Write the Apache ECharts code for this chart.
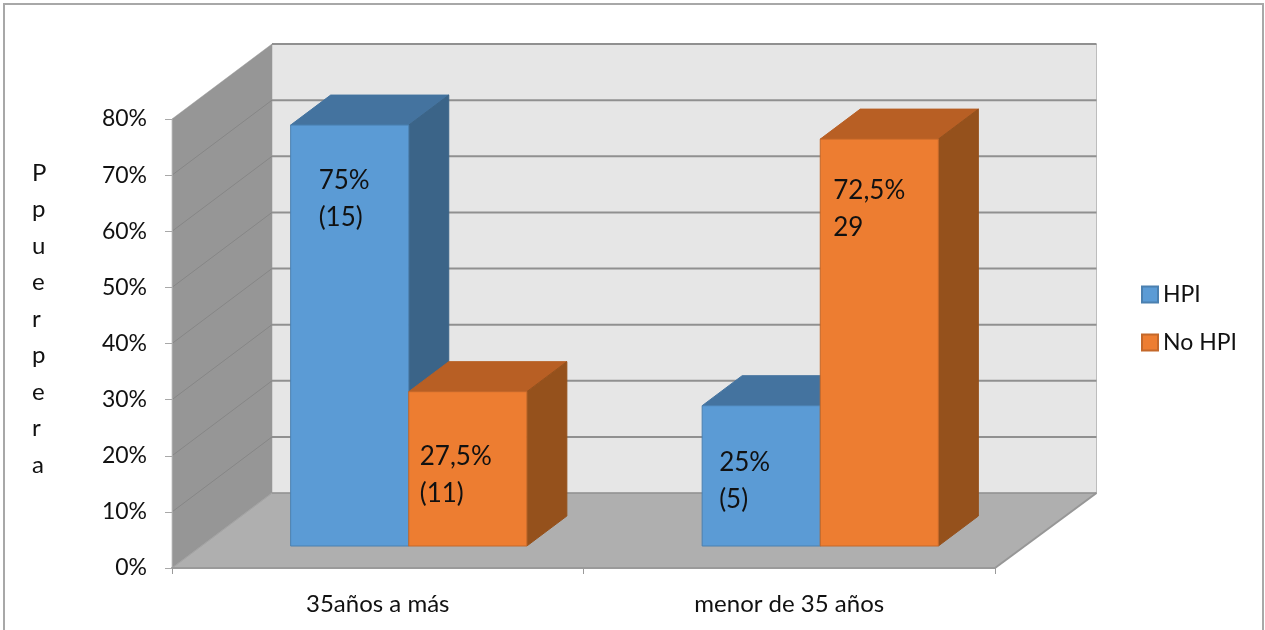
<!DOCTYPE html>
<html>
<head>
<meta charset="utf-8">
<style>html,body{margin:0;padding:0;background:#fff}#c{width:1265px;height:630px}</style>
<script src="https://cdn.jsdelivr.net/npm/echarts@6/dist/echarts.min.js"></script>
</head>
<body>
<div id="c"></div>
<script>
const categories = ['35años a más', 'menor de 35 años'];
const hpiValues = [75, 25];
const noHpiValues = [27.5, 72.5];
const hpiLabels = ['75%\n(15)', '25%\n(5)'];
const noHpiLabels = ['27,5%\n(11)', '72,5%\n29'];
const yTicks = [0, 10, 20, 30, 40, 50, 60, 70, 80];
const yAxisTitle = 'P\np\nu\ne\nr\np\ne\nr\na';

// layout of the pseudo-3D box (pixels)
const WALL_DX = 100, WALL_DY = -75, WALL_RIGHT_EXTRA = 1.5;
const BAR_SHIFT_X = 31, BAR_SHIFT_Y = -22, BAR_DX = 40, BAR_DY = -30, BAR_FRACTION = 0.287;
const hpiLabelOffsets = [[28, 37], [17, 38]];
const noHpiLabelOffsets = [[11, 46], [13, 33]];
const FONT = 'Lato, "Noto Sans", sans-serif';
const TEXT = '#111';

function poly(points, fill, stroke, lineWidth) {
  return { type: 'polygon', shape: { points }, style: { fill, stroke: stroke || fill, lineWidth: lineWidth || 0.5 } };
}
function seg(a, b, stroke, lineWidth) {
  return { type: 'line', shape: { x1: a[0], y1: a[1], x2: b[0], y2: b[1] }, style: { stroke, lineWidth } };
}

function renderBox(params, api) {
  const g = params.coordSys;
  const x0 = g.x, x1 = g.x + g.width;
  const xr = x1 + WALL_DX + WALL_RIGHT_EXTRA;
  const y0 = api.coord([0, yTicks[0]])[1];
  const yTop = api.coord([0, yTicks[yTicks.length - 1]])[1];
  const children = [
    poly([[x0 + WALL_DX, yTop + WALL_DY], [xr, yTop + WALL_DY], [xr, y0 + WALL_DY], [x0 + WALL_DX, y0 + WALL_DY]], '#e6e6e6'),
    poly([[x0, y0], [x0 + WALL_DX, y0 + WALL_DY], [xr, y0 + WALL_DY], [x1, y0]], '#afafaf'),
    poly([[x0, yTop], [x0 + WALL_DX, yTop + WALL_DY], [x0 + WALL_DX, y0 + WALL_DY], [x0, y0]], '#969696'),
    seg([xr, yTop + WALL_DY], [xr, y0 + WALL_DY], '#bdbdbd', 1),
    seg([x1, y0], [xr, y0 + WALL_DY], '#979797', 2),
    seg([x0, y0], [x0 + WALL_DX, y0 + WALL_DY], '#a4a4a4', 1)
  ];
  yTicks.forEach(function (t) {
    const y = api.coord([0, t])[1];
    if (t > 0 && t < yTicks[yTicks.length - 1]) {
      children.push(seg([x0, y], [x0 + WALL_DX, y + WALL_DY], '#868686', 1));
    }
    children.push(seg([x0 + WALL_DX, y + WALL_DY], [xr, y + WALL_DY], '#909090', t === 0 ? 1.5 : 2));
  });
  return { type: 'group', children };
}

function barRenderer(side, colors, labels, offsets) {
  return function (params, api) {
    const i = api.value(0), v = api.value(1);
    const base = api.coord([i, 0]);
    const top = api.coord([i, v]);
    const w = api.size([1, 0])[0] * BAR_FRACTION;
    const xa = base[0] + BAR_SHIFT_X + (side < 0 ? -w : 0);
    const xb = xa + w;
    const yb = base[1] + BAR_SHIFT_Y;
    const yt = top[1] + BAR_SHIFT_Y;
    return {
      type: 'group',
      children: [
        poly([[xa, yt], [xa + BAR_DX, yt + BAR_DY], [xb + BAR_DX, yt + BAR_DY], [xb, yt]], colors.top, colors.top, 1),
        poly([[xb, yt], [xb + BAR_DX, yt + BAR_DY], [xb + BAR_DX, yb + BAR_DY], [xb, yb]], colors.side, colors.side, 1),
        poly([[xa, yt], [xb, yt], [xb, yb], [xa, yb]], colors.front, colors.edge, 1),
        {
          type: 'text',
          style: {
            text: labels[i], x: xa + offsets[i][0], y: yt + offsets[i][1],
            fill: TEXT, font: '26px ' + FONT, lineHeight: 37, align: 'left', verticalAlign: 'top'
          }
        }
      ]
    };
  };
}

const blue = { front: '#5b9bd5', top: '#44739f', side: '#3b6488', edge: '#4b80b0' };
const orange = { front: '#ed7d31', top: '#b85f24', side: '#95511c', edge: '#c4682a' };

const chart = echarts.init(document.getElementById('c'), null, { renderer: 'canvas' });
chart.setOption({
  animation: false,
  backgroundColor: '#fff',
  graphic: [
    {
      type: 'rect', silent: true, z: -1,
      shape: { x: 4, y: 4, width: 1259, height: 640 },
      style: { fill: 'none', stroke: '#a8a8a8', lineWidth: 2 }
    },
    {
      type: 'text', silent: true, x: 32, y: 155,
      style: { text: yAxisTitle, fill: TEXT, font: '24px ' + FONT, lineHeight: 36.5, align: 'left', verticalAlign: 'top' }
    }
  ],
  grid: { left: 172, right: 270, top: 119, bottom: 62, containLabel: false },
  legend: {
    data: ['HPI', 'No HPI'], orient: 'vertical', left: 1136, top: 278,
    itemWidth: 16, itemHeight: 16, itemGap: 25, icon: 'rect',
    textStyle: { fontFamily: FONT, fontSize: 23, color: TEXT }
  },
  xAxis: {
    type: 'category', data: categories, z: 5,
    axisLine: { lineStyle: { color: '#9a9a9a', width: 2 } },
    axisTick: { show: true, length: 6, alignWithLabel: false, lineStyle: { color: '#9a9a9a' } },
    axisLabel: { fontFamily: FONT, fontSize: 24, color: TEXT, margin: 24 },
    splitLine: { show: false }
  },
  yAxis: {
    type: 'value', min: 0, max: 80, interval: 10, z: 5,
    axisLine: { show: true, lineStyle: { color: '#a8a8a8' } },
    axisTick: { show: true, length: 7, lineStyle: { color: '#a8a8a8' } },
    axisLabel: { fontFamily: FONT, fontSize: 23, color: TEXT, margin: 25, formatter: '{value}%', verticalAlign: 'middle', padding: [8, 0, 0, 0] },
    splitLine: { show: false }
  },
  series: [
    {
      type: 'custom', name: 'box', silent: true, z: 1,
      data: [[0, 0]], encode: { x: 0, y: 1 }, renderItem: renderBox, clip: false
    },
    {
      type: 'custom', name: 'HPI', z: 2, itemStyle: { color: blue.front, borderColor: blue.edge, borderWidth: 1 },
      data: hpiValues.map((v, i) => [i, v]), encode: { x: 0, y: 1 },
      renderItem: barRenderer(-1, blue, hpiLabels, hpiLabelOffsets), clip: false
    },
    {
      type: 'custom', name: 'No HPI', z: 3, itemStyle: { color: orange.front, borderColor: orange.edge, borderWidth: 1 },
      data: noHpiValues.map((v, i) => [i, v]), encode: { x: 0, y: 1 },
      renderItem: barRenderer(1, orange, noHpiLabels, noHpiLabelOffsets), clip: false
    }
  ]
});
</script>
</body>
</html>
